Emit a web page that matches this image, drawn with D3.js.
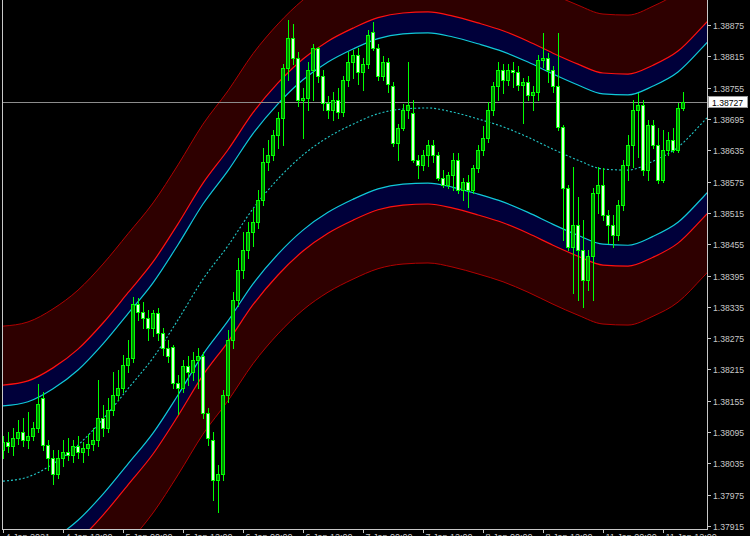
<!DOCTYPE html>
<html><head><meta charset="utf-8">
<script src="https://cdn.jsdelivr.net/npm/d3@7"></script>
<style>html,body{margin:0;padding:0;background:#000;overflow:hidden}</style>
</head><body>
<svg id="c" width="750" height="536"></svg>
<script>
// ---- data ----
const opens=[1.38061,1.38076,1.38069,1.38084,1.38095,1.38080,1.38088,1.38103,1.38161,1.38070,
1.38046,1.38014,1.38046,1.38057,1.38051,1.38069,1.38057,1.38065,1.38072,1.38080,
1.38122,1.38103,1.38137,1.38166,1.38180,1.38223,1.38237,1.38340,1.38325,1.38314,
1.38295,1.38323,1.38285,1.38256,1.38258,1.38189,1.38180,1.38222,1.38210,1.38233,
1.38241,1.38131,1.38080,1.38003,1.38014,1.38166,1.38271,1.38348,1.38406,1.38444,
1.38478,1.38497,1.38540,1.38612,1.38626,1.38664,1.38697,1.38793,1.38851,1.38812,
1.38731,1.38736,1.38789,1.38831,1.38778,1.38725,1.38712,1.38731,1.38708,1.38770,
1.38804,1.38817,1.38785,1.38800,1.38862,1.38831,1.38778,1.38804,1.38759,1.38649,
1.38678,1.38712,1.38706,1.38616,1.38606,1.38626,1.38645,1.38625,1.38582,1.38568,
1.38587,1.38616,1.38559,1.38574,1.38559,1.38601,1.38636,1.38659,1.38712,1.38759,
1.38789,1.38770,1.38789,1.38785,1.38760,1.38766,1.38741,1.38747,1.38808,1.38812,
1.38789,1.38759,1.38680,1.38563,1.38450,1.38491,1.38444,1.38386,1.38433,1.38553,
1.38568,1.38511,1.38491,1.38472,1.38530,1.38606,1.38645,1.38712,1.38721,1.38597,
1.38683,1.38645,1.38578,1.38636,1.38655,1.38636,1.38716];
const closes=[1.38076,1.38069,1.38084,1.38095,1.38080,1.38088,1.38103,1.38148,1.38070,1.38046,
1.38014,1.38046,1.38057,1.38051,1.38069,1.38057,1.38065,1.38072,1.38080,1.38122,
1.38103,1.38137,1.38166,1.38180,1.38223,1.38237,1.38340,1.38325,1.38314,1.38295,
1.38323,1.38285,1.38256,1.38241,1.38189,1.38180,1.38222,1.38210,1.38233,1.38241,
1.38131,1.38084,1.38003,1.38014,1.38166,1.38271,1.38348,1.38406,1.38444,1.38478,
1.38497,1.38540,1.38612,1.38626,1.38664,1.38697,1.38793,1.38851,1.38812,1.38731,
1.38736,1.38789,1.38831,1.38778,1.38725,1.38712,1.38731,1.38708,1.38770,1.38804,
1.38817,1.38785,1.38800,1.38855,1.38831,1.38778,1.38804,1.38762,1.38649,1.38678,
1.38712,1.38721,1.38616,1.38606,1.38626,1.38645,1.38625,1.38582,1.38568,1.38587,
1.38616,1.38559,1.38574,1.38559,1.38601,1.38636,1.38659,1.38712,1.38759,1.38789,
1.38770,1.38789,1.38785,1.38760,1.38766,1.38741,1.38747,1.38808,1.38812,1.38789,
1.38759,1.38680,1.38563,1.38450,1.38491,1.38444,1.38386,1.38433,1.38553,1.38568,
1.38511,1.38491,1.38472,1.38530,1.38606,1.38645,1.38712,1.38721,1.38597,1.38683,
1.38645,1.38578,1.38636,1.38655,1.38636,1.38716,1.38727];
const highs=[1.38088,1.38095,1.38103,1.38118,1.38122,1.38133,1.38114,1.38187,1.38172,1.38080,
1.38061,1.38061,1.38080,1.38084,1.38080,1.38088,1.38076,1.38091,1.38103,1.38195,
1.38146,1.38161,1.38210,1.38214,1.38242,1.38271,1.38354,1.38352,1.38344,1.38329,
1.38329,1.38333,1.38295,1.38271,1.38261,1.38204,1.38233,1.38241,1.38248,1.38256,
1.38248,1.38141,1.38095,1.38031,1.38176,1.38291,1.38363,1.38429,1.38478,1.38497,
1.38525,1.38559,1.38640,1.38655,1.38674,1.38708,1.38800,1.38885,1.38877,1.38823,
1.38755,1.38804,1.38838,1.38833,1.38789,1.38738,1.38747,1.38755,1.38778,1.38823,
1.38827,1.38831,1.38812,1.38866,1.38881,1.38838,1.38816,1.38812,1.38766,1.38685,
1.38723,1.38804,1.38731,1.38625,1.38636,1.38655,1.38655,1.38632,1.38597,1.38593,
1.38630,1.38630,1.38582,1.38587,1.38606,1.38645,1.38682,1.38727,1.38766,1.38804,
1.38800,1.38800,1.38804,1.38797,1.38774,1.38778,1.38759,1.38817,1.38860,1.38821,
1.38797,1.38860,1.38683,1.38568,1.38603,1.38546,1.38501,1.38444,1.38563,1.38603,
1.38601,1.38521,1.38511,1.38540,1.38616,1.38664,1.38731,1.38745,1.38731,1.38693,
1.38693,1.38678,1.38674,1.38670,1.38678,1.38725,1.38747];
const lows=[1.38046,1.38057,1.38051,1.38072,1.38069,1.38065,1.38080,1.38095,1.38061,1.38022,
1.37995,1.38007,1.38030,1.38041,1.38037,1.38046,1.38037,1.38051,1.38061,1.38069,
1.38088,1.38095,1.38127,1.38156,1.38172,1.38210,1.38229,1.38310,1.38295,1.38271,
1.38280,1.38271,1.38242,1.38229,1.38180,1.38129,1.38172,1.38185,1.38195,1.38180,
1.38122,1.38070,1.37965,1.37942,1.38003,1.38152,1.38256,1.38337,1.38391,1.38429,
1.38452,1.38486,1.38530,1.38597,1.38616,1.38640,1.38645,1.38770,1.38800,1.38720,
1.38659,1.38712,1.38731,1.38766,1.38712,1.38697,1.38693,1.38697,1.38701,1.38759,
1.38774,1.38762,1.38751,1.38793,1.38827,1.38770,1.38770,1.38747,1.38644,1.38616,
1.38674,1.38697,1.38612,1.38582,1.38597,1.38605,1.38612,1.38578,1.38565,1.38563,
1.38559,1.38553,1.38540,1.38527,1.38553,1.38593,1.38626,1.38651,1.38702,1.38731,
1.38745,1.38760,1.38757,1.38751,1.38687,1.38731,1.38712,1.38731,1.38795,1.38766,
1.38747,1.38674,1.38463,1.38444,1.38361,1.38348,1.38335,1.38367,1.38348,1.38515,
1.38501,1.38457,1.38450,1.38463,1.38521,1.38578,1.38603,1.38623,1.38587,1.38578,
1.38640,1.38572,1.38574,1.38626,1.38632,1.38632,1.38712];

// band centre line (sampled every 5 bars) and band half-widths
const centerBars=[0,5,10,15,20,25,30,35,40,45,50,55,60,65,70,75,80,85,90,95,100,105,110,115,120,125,130,135,140,145];
const centerVals=[1.38001,1.38009,1.38034,1.38070,1.38120,1.38178,1.38237,1.38310,1.38388,1.38452,
1.38523,1.38580,1.38626,1.38660,1.38685,1.38705,1.38714,1.38716,1.38708,1.38695,
1.38680,1.38660,1.38637,1.38616,1.38599,1.38597,1.38614,1.38641,1.38689,1.38741];
const bandWidths=[0.00144,0.00184,0.00297]; // inner (cyan), middle (red), outer (dark red)

const priceTicks=[1.37915,1.37975,1.38035,1.38095,1.38155,1.38215,1.38275,1.38335,1.38395,
1.38455,1.38515,1.38575,1.38635,1.38695,1.38755,1.38815,1.38875];
const timeTickBars=[0,12,24,36,48,60,72,84,96,108,120,132];
const timeLabels=["4 Jan 2021","4 Jan 12:00","5 Jan 00:00","5 Jan 12:00","6 Jan 00:00","6 Jan 12:00",
"7 Jan 00:00","7 Jan 12:00","8 Jan 00:00","8 Jan 12:00","11 Jan 00:00","11 Jan 12:00"];
const lastPrice=1.38727;

// ---- drawing ----
const svg=d3.select("#c");
const plot={left:2,right:707,top:0,bottom:529};
const x=d3.scaleLinear().domain([0,1]).range([3,8]);
const y=d3.scaleLinear().domain([1.37915,1.38875]).range([526,25]);

svg.append("rect").attr("width",750).attr("height",536).attr("fill","#000");
svg.append("defs").append("clipPath").attr("id","clip").append("rect")
  .attr("x",plot.left+1).attr("y",0).attr("width",plot.right-plot.left-1).attr("height",plot.bottom);
const g=svg.append("g").attr("clip-path","url(#clip)");

const pts=centerBars.map((b,i)=>({b,v:centerVals[i]}));
const curve=d3.curveMonotoneX;
function band(a,b,fill){
  g.append("path").datum(pts).attr("fill",fill).attr("stroke","none")
   .attr("d",d3.area().curve(curve).x(d=>x(d.b)).y0(d=>y(d.v+a)).y1(d=>y(d.v+b)));
}
function line(off,color,w,dash){
  const p=g.append("path").datum(pts).attr("fill","none").attr("stroke",color).attr("stroke-width",w)
   .attr("d",d3.line().curve(curve).x(d=>x(d.b)).y(d=>y(d.v+off)));
  if(dash) p.attr("stroke-dasharray",dash);
}
const [w1,w2,w3]=bandWidths;
band(w2,w3,"#2e0000"); band(-w2,-w3,"#2e0000");
band(w1,w2,"#00003a"); band(-w1,-w2,"#00003a");
line(w3,"#b00000",1); line(-w3,"#b00000",1);
line(w2,"#ff1010",1.2); line(-w2,"#ff1010",1.2);
line(w1,"#10c8d8",1.2); line(-w1,"#10c8d8",1.2);
line(0,"#22c8c8",1.1,"2,2");

// last price line
g.append("line").attr("x1",plot.left).attr("x2",plot.right).attr("y1",Math.round(y(lastPrice))+0.5)
 .attr("y2",Math.round(y(lastPrice))+0.5).attr("stroke","#8c8c8c").attr("stroke-width",1);

// candles
const bars=opens.map((o,i)=>({i,o,c:closes[i],h:highs[i],l:lows[i]}));
const cg=g.append("g").attr("shape-rendering","crispEdges");
bars.forEach(d=>{
  const cx=Math.round(x(d.i));
  cg.append("line").attr("x1",cx).attr("x2",cx).attr("y1",Math.round(y(d.h))).attr("y2",Math.round(y(d.l))+1)
    .attr("stroke","#00ff00").attr("stroke-width",1);
  const top=Math.round(y(Math.max(d.o,d.c))), bot=Math.round(y(Math.min(d.o,d.c)));
  const bull=d.c>=d.o;
  cg.append("rect").attr("x",cx-1.5).attr("y",top+0.5).attr("width",3).attr("height",Math.max(0,bot-top))
    .attr("fill",bull?"#008c00":"#e4ffe4").attr("stroke","#00ff00").attr("stroke-width",1);
});

// frame
const axisColor="#c8c8c8";
svg.append("line").attr("x1",plot.left+0.5).attr("x2",plot.left+0.5).attr("y1",0).attr("y2",plot.bottom).attr("stroke",axisColor);
svg.append("line").attr("x1",plot.right+0.5).attr("x2",plot.right+0.5).attr("y1",0).attr("y2",plot.bottom+1).attr("stroke",axisColor);
svg.append("line").attr("x1",plot.left).attr("x2",plot.right+1).attr("y1",plot.bottom+0.5).attr("y2",plot.bottom+0.5).attr("stroke",axisColor);

// right axis
const ra=svg.append("g").attr("font-family","Liberation Sans, Arial, sans-serif").attr("font-size","8.6px").attr("fill",axisColor);
priceTicks.forEach(p=>{
  const yy=Math.round(y(p))+0.5;
  ra.append("line").attr("x1",plot.right+1).attr("x2",plot.right+4).attr("y1",yy).attr("y2",yy).attr("stroke",axisColor);
  ra.append("text").attr("x",plot.right+6).attr("y",yy).attr("dy","0.35em").text(p.toFixed(5));
});
// last price label
const ly=Math.round(y(lastPrice));
svg.append("rect").attr("x",plot.right+1.5).attr("y",ly-5.5).attr("width",39).attr("height",11)
  .attr("fill","#fff").attr("stroke","#9a9a9a");
svg.append("text").attr("x",plot.right+5).attr("y",ly+0.5).attr("dy","0.35em")
  .attr("font-family","Liberation Sans, Arial, sans-serif").attr("font-size","8.6px").attr("fill","#000").text(lastPrice.toFixed(5));

// bottom axis
const ba=svg.append("g").attr("font-family","Liberation Sans, Arial, sans-serif").attr("font-size","9px").attr("fill",axisColor);
timeTickBars.forEach((b,k)=>{
  const xx=Math.round(x(b))+0.5;
  ba.append("line").attr("x1",xx).attr("x2",xx).attr("y1",plot.bottom).attr("y2",plot.bottom+4).attr("stroke",axisColor);
  ba.append("text").attr("x",xx+2).attr("y",540).text(timeLabels[k]);
});
</script>
</body></html>
